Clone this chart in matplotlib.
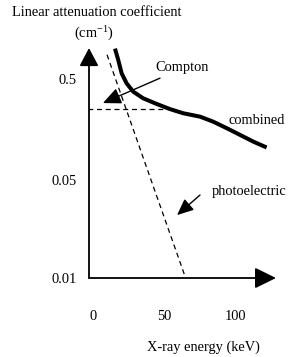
import numpy as np
import matplotlib
matplotlib.use("Agg")
import matplotlib.pyplot as plt
from matplotlib.patches import ArrowStyle

plt.rcParams['font.family'] = ['Liberation Serif', 'DejaVu Serif']

# ---- data (read from the schematic) ----
combined_energy = [15.5, 17.8, 20.2, 23.7, 28.4, 35.4, 44.9, 54.2, 63.6, 75.4, 84.7, 94.2, 103.5, 112.9, 122.3]
combined_mu = [1.0, 0.771, 0.569, 0.453, 0.374, 0.322, 0.283, 0.252, 0.229, 0.212, 0.189, 0.163, 0.140, 0.120, 0.105]
compton_energy = [-10, 49]
compton_mu = [0.25, 0.25]
photo_energy = [9.9, 40.9, 64.8]
photo_mu = [0.87, 0.05, 0.0103]
xticks = [0, 50, 100]
xtick_labels = ['0', '50', '100']
yticks = [0.01, 0.05, 0.5]
ytick_labels = ['0.01', '0.05', '0.5']


def fwd(v):
    v = np.clip(np.asarray(v, dtype=float), 1e-9, None)
    return np.where(v >= 0.05, np.log10(v / 0.05), np.log10(v / 0.05) / np.log10(5) * 0.97)


def inv(u):
    u = np.asarray(u, dtype=float)
    return np.where(u >= 0, 0.05 * 10 ** u, 0.05 * 5 ** (u / 0.97))


W, H = 296, 357
fig = plt.figure(figsize=(W / 100, H / 100), dpi=100)
ax = fig.add_axes([89 / W, 1 - 278 / H, 187 / W, (278 - 48) / H])
ax.set_yscale('function', functions=(fwd, inv))
ax.set_xlim(-2.8, 128.9)
ax.set_ylim(0.01, 1.014)

fs = 10.4
ax.plot(combined_energy, combined_mu, color='black', lw=2.9, solid_capstyle='butt')
ax.plot(compton_energy, compton_mu, color='black', lw=0.9, ls=(0, (4, 3)))
ax.plot(photo_energy, photo_mu, color='black', lw=0.9, ls=(0, (4, 3)))

for s in ax.spines.values():
    s.set_visible(False)
ax.set_xticks(xticks)
ax.set_xticklabels(xtick_labels, fontsize=fs)
ax.set_yticks(yticks)
ax.set_yticklabels(ytick_labels, fontsize=fs)
ax.minorticks_off()
ax.tick_params(axis='x', length=0, pad=23)
ax.tick_params(axis='y', length=0, pad=9)

# axis arrows
ax.annotate('', xy=(1, 0), xytext=(0, 0), xycoords='axes fraction',
            arrowprops=dict(arrowstyle=ArrowStyle('-|>', head_length=0.65, head_width=0.32),
                            mutation_scale=20, lw=1.3, color='black', shrinkA=0, shrinkB=0))
ax.annotate('', xy=(0, 1), xytext=(0, 0), xycoords='axes fraction',
            arrowprops=dict(arrowstyle=ArrowStyle('-|>', head_length=0.55, head_width=0.29),
                            mutation_scale=20, lw=1.3, color='black', shrinkA=0, shrinkB=0))

# labels
ax.text(62.7, 0.657, 'Compton', fontsize=fs, ha='center', va='center')
ax.annotate('', xy=(7.0, 0.289), xytext=(47.2, 0.51),
            arrowprops=dict(arrowstyle=ArrowStyle('-|>', head_length=0.55, head_width=0.25),
                            mutation_scale=20, lw=1.0, color='black', shrinkA=0, shrinkB=0))
ax.text(115.5, 0.196, 'combined', fontsize=fs, ha='center', va='center')
ax.text(109.9, 0.0411, 'photoelectric', fontsize=fs, ha='center', va='center')
ax.annotate('', xy=(59.2, 0.0281), xytext=(75.4, 0.0391),
            arrowprops=dict(arrowstyle=ArrowStyle('-|>', head_length=0.5, head_width=0.22),
                            mutation_scale=20, lw=1.0, color='black', shrinkA=0, shrinkB=0))

fig.text(97 / W, 1 - 12 / H, 'Linear attenuation coefficient', fontsize=fs, ha='center', va='center')
fig.text(94 / W, 1 - 33 / H, '(cm$^{\\mathregular{-1}}$)', fontsize=fs, ha='center', va='center')
fig.text(203 / W, 1 - 347 / H, 'X-ray energy (keV)', fontsize=fs, ha='center', va='center')

fig.savefig('out.png', dpi=100)
